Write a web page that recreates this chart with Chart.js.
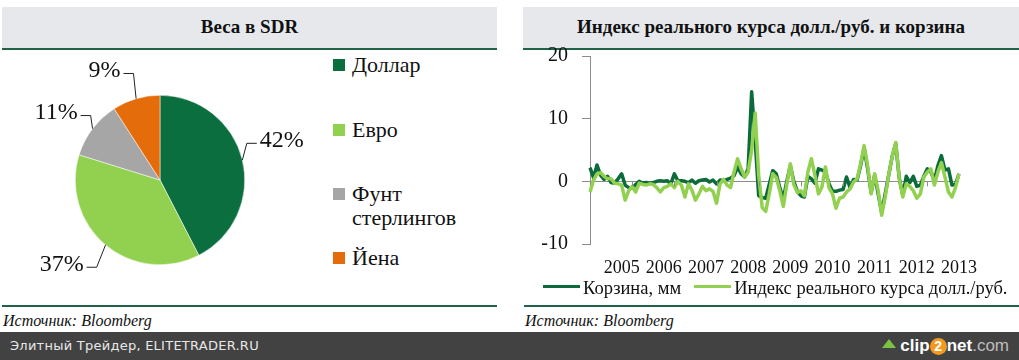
<!DOCTYPE html>
<html>
<head>
<meta charset="utf-8">
<script src="https://cdn.jsdelivr.net/npm/chart.js@4"></script>
<style>
  body { margin: 0; width: 1019px; height: 360px; overflow: hidden; background: #fff; position: relative; font-family: "Liberation Serif", serif; }
  .tbar { position: absolute; top: 7px; height: 41px; background: #e6e8eb; border-bottom: 2px solid #1f6449; text-align: center; font-weight: bold; font-size: 19px; line-height: 40px; color: #111; }
  .rule { position: absolute; top: 305px; height: 2px; background: #1f6449; }
  .src { position: absolute; top: 312px; font-style: italic; font-size: 16px; color: #111; }
  .foot { position: absolute; left: 0; top: 332px; width: 1019px; height: 28px; background: #424242; }
  .foot .t { position: absolute; left: 10px; top: 6px; font: 13px "DejaVu Sans", sans-serif; letter-spacing: 0.25px; color: #e8e8e8; }
  .logo { position: absolute; right: 10px; top: 4px; font: bold 17px "Liberation Sans", sans-serif; color: #fff; white-space: nowrap; }
  .logo .two { display: inline-block; width: 17px; height: 17px; border-radius: 9px; background: #f39a1e; color: #fff; text-align: center; line-height: 17px; font-size: 14px; }
  .logo .com { color: #bdbdbd; font-weight: normal; }
  .logo .arr { display: inline-block; width: 0; height: 0; border-left: 7px solid transparent; border-right: 7px solid transparent; border-bottom: 9px solid #7cc242; margin-right: 4px; vertical-align: 3px; }
  canvas { position: absolute; }
  .leg { position: absolute; left: 333px; font-size: 22px; line-height: 24px; color: #111; }
  .leg i { position: absolute; left: 0; top: 6px; width: 12px; height: 12px; }
  .leg span { position: absolute; left: 19px; top: 0; white-space: nowrap; }
  .lleg { position: absolute; left: 543px; top: 277px; width: 476px; height: 24px; overflow: hidden; white-space: nowrap; font-size: 18.5px; line-height: 22px; color: #111; }
  .lleg b { display: inline-block; width: 37px; height: 3px; vertical-align: 6px; margin-right: 3px; }
</style>
</head>
<body>
<div class="tbar" style="left:2px;width:495px;">Веса в SDR</div>
<div class="tbar" style="left:523px;width:496px;">Индекс реального курса долл./руб. и корзина</div>
<div class="rule" style="left:2px;width:495px;"></div>
<div class="rule" style="left:524px;width:495px;"></div>
<div class="src" style="left:3px;">Источник: Bloomberg</div>
<div class="src" style="left:525px;">Источник: Bloomberg</div>
<div class="foot"><div class="t">Элитный Трейдер, ELITETRADER.RU</div>
  <div class="logo"><span class="arr"></span>clip<span class="two">2</span>net<span class="com">.com</span></div></div>

<canvas id="pie" width="330" height="250" style="left:0;top:50px;"></canvas>
<div id="pieLegend"></div>
<canvas id="line" width="499" height="250" style="left:520px;top:30px;"></canvas>
<div class="lleg" id="lineLegend"></div>

<script>
// --- data ---
const currencies = ['Доллар', 'Евро', 'Фунт стерлингов', 'Йена'];
const weights = [42, 37, 11, 9];
const pieColors = ['#0a6e3f', '#92d050', '#a6a6a6', '#e46c0a'];

// monthly, Mar 2005 .. Dec 2013
const startYear = 2005, startMonth = 3, monthCount = 106;
const months = [];
for (let i = 0; i < monthCount; i++) {
  const m = startMonth - 1 + i;
  months.push((startYear + Math.floor(m / 12)) + '-' + String(m % 12 + 1).padStart(2, '0'));
}

const basket = [
  2.2, 0.6, 2.6, 1.0, 0.3, 0.8, -0.2, -0.3, 0.4, 1.2,
  -0.6, -1.0, -1.1, -0.5, 0.0, -0.3, -0.2, -0.3, -0.2, 0.0,
  0.1, 0.0, 0.1, -0.4, 1.2, 0.1, 0.1, 0.0, -0.2, 0.2,
  -0.3, 0.1, 0.2, 0.3, -0.1, 0.2, -0.4, 0.2, 0.1, 0.3,
  0.5, 0.9, 2.3, 1.2, 0.7, 2.0, 14.3, 6.5, -2.3, -2.6,
  -2.7, -0.5, 1.7, 1.2, -1.0, -2.8, 0.0, 2.5, 0.0, -1.6,
  -2.3, -2.5, 0.8, 0.4, -0.3, 2.0, 1.8, 1.5, -0.4, -1.6,
  -1.6, -1.4, -1.3, 0.7, -1.0, 0.3, 0.2, 2.5, 5.3, 2.0,
  -1.8, 1.0, -2.0, -5.0, -2.0, 1.0, 4.0, 6.0, 0.5, -2.2,
  0.8, -0.2, 0.8, -0.8, -0.6, 0.8, 2.0, 1.5, 0.2, 2.5,
  4.1, 1.8, 2.0, -0.6, -0.5, 1.2
];
const realRate = [
  -1.7, 0.2, 1.2, 1.4, 0.8, 0.4, 0.4, -0.3, -0.4, -0.6,
  -3.0, -1.5, -0.8, -1.7, -0.3, -0.5, -0.6, -0.4, -0.5, -1.0,
  -1.7, -1.0, -0.8, -0.4, -1.0, 0.0, -0.6, -2.5, -0.4, -1.4,
  -3.0, -2.0, -0.8, -1.5, -1.2, -1.6, -3.5, -0.4, 0.3, -0.6,
  -1.0, 1.5, 3.6, 2.0, 0.7, 1.5, 5.0, 10.9, 1.0, -4.2,
  -4.8, -2.0, 1.2, 0.6, -1.5, -4.0, -0.5, 2.8, -0.5, -1.8,
  -1.5, -2.3, 1.5, 3.6, 1.0, -2.0, -0.9, 2.3, -1.0, -2.0,
  -4.3, -2.7, -2.5, -1.7, -1.2, -0.1, 0.4, 2.8, 5.7, 2.5,
  -2.0, 1.2, -1.5, -5.4, -2.5, 1.0, 4.0, 6.2, 0.5, -2.5,
  -0.4, -0.8, -1.5, -2.7, -2.0, 0.7, 1.5, 2.0, -0.6, 1.5,
  3.0, 0.7, -1.7, -2.5, -1.0, 1.2
];
const seriesNames = ['Корзина, мм', 'Индекс реального курса долл./руб.'];
const lineColors = ['#0b6b3a', '#92d050'];
const yTicks = [-10, 0, 10, 20];

Chart.defaults.font.family = '"Liberation Serif", serif';
Chart.defaults.color = '#111';
Chart.defaults.animation = false;

// --- pie ---
// elbow nudges for the leader lines (style only)
const labelNudge = [[-15, -12], [4, 7], [14, -1], [3, -6]];
const pieLabels = {
  id: 'pieLabels',
  afterDatasetsDraw(chart) {
    const ctx = chart.ctx;
    ctx.save();
    ctx.font = '24px "Liberation Serif"';
    ctx.fillStyle = '#111';
    ctx.strokeStyle = '#222';
    ctx.lineWidth = 1;
    ctx.textBaseline = 'middle';
    chart.getDatasetMeta(0).data.forEach((arc, i) => {
      const p = arc.getProps(['x', 'y', 'startAngle', 'endAngle', 'outerRadius'], true);
      const mid = (p.startAngle + p.endAngle) / 2;
      const c = Math.cos(mid), s = Math.sin(mid);
      const x0 = p.x + c * p.outerRadius, y0 = p.y + s * p.outerRadius;
      const x1 = p.x + c * (p.outerRadius + 20) + labelNudge[i][0];
      const y1 = p.y + s * (p.outerRadius + 20) + labelNudge[i][1];
      const right = c >= 0;
      const x2 = x1 + (right ? 10 : -10);
      ctx.beginPath();
      ctx.moveTo(x0, y0); ctx.lineTo(x1, y1); ctx.lineTo(x2, y1);
      ctx.stroke();
      ctx.textAlign = right ? 'left' : 'right';
      ctx.fillText(weights[i] + '%', x2 + (right ? 3 : -3), y1 - 3);
    });
    ctx.restore();
  }
};

new Chart(document.getElementById('pie'), {
  type: 'pie',
  data: {
    labels: currencies,
    datasets: [{ data: weights, backgroundColor: pieColors, borderColor: '#fff', borderWidth: 0.5 }]
  },
  options: {
    responsive: false,
    devicePixelRatio: 1,
    layout: { padding: { left: 75, top: 45, right: 85, bottom: 35 } },
    plugins: { legend: { display: false }, tooltip: { enabled: false } }
  },
  plugins: [pieLabels]
});

// html legend for the pie (multi-line label)
const legTops = [53, 118, 182, 246];
document.getElementById('pieLegend').innerHTML = currencies.map((c, i) =>
  `<div class="leg" style="top:${legTops[i]}px"><i style="background:${pieColors[i]}"></i><span>${c.replace(' ', '<br>')}</span></div>`
).join('');

// --- line ---
const yearTicks = {
  id: 'yearTicks',
  afterDatasetsDraw(chart) {
    const { ctx, scales: { x, y } } = chart;
    const y0 = y.getPixelForValue(0);
    ctx.save();
    ctx.strokeStyle = '#8c8c8c';
    ctx.lineWidth = 1;
    months.forEach((m, i) => {
      if (i % 12 !== 0 || i === 0) return;
      const px = Math.round(x.getPixelForValue(i)) + 0.5;
      ctx.beginPath(); ctx.moveTo(px, y0); ctx.lineTo(px, y0 + 5); ctx.stroke();
    });
    ctx.restore();
  }
};

new Chart(document.getElementById('line'), {
  type: 'line',
  data: {
    labels: months,
    datasets: [
      { label: seriesNames[0], data: basket, borderColor: lineColors[0], backgroundColor: lineColors[0], borderWidth: 3.5, pointRadius: 0, order: 2, borderJoinStyle: 'round' },
      { label: seriesNames[1], data: realRate, borderColor: lineColors[1], backgroundColor: lineColors[1], borderWidth: 3.5, pointRadius: 0, order: 1, borderJoinStyle: 'round' }
    ]
  },
  options: {
    responsive: false,
    devicePixelRatio: 1,
    layout: { padding: { left: 0, top: 24, right: 60, bottom: 0 } },
    plugins: { legend: { display: false }, tooltip: { enabled: false } },
    scales: {
      x: {
        offset: false,
        grid: { display: false, drawTicks: false },
        border: { display: false },
        ticks: {
          autoSkip: false, maxRotation: 0, padding: 13,
          font: { size: 18 }, color: '#111',
          callback: (v, i) => months[i].endsWith('-12') ? months[i].slice(0, 4) : null
        },
        afterFit: s => { s.height = 36; }
      },
      y: {
        min: yTicks[0], max: yTicks[yTicks.length - 1],
        afterBuildTicks: s => { s.ticks = yTicks.map(v => ({ value: v })); },
        ticks: { font: { size: 20 }, color: '#111', padding: 14 },
        grid: {
          color: c => c.tick && c.tick.value === 0 ? '#8c8c8c' : 'transparent',
          tickColor: '#8c8c8c', tickLength: 8, lineWidth: 1
        },
        border: { color: '#8c8c8c', width: 1 },
        afterFit: s => { s.width = 70; }
      }
    }
  },
  plugins: [yearTicks]
});

document.getElementById('lineLegend').innerHTML = seriesNames.map((n, i) =>
  `<b style="background:${lineColors[i]}"></b>${n}`
).join('<span style="display:inline-block;width:13px"></span>');
</script>
</body>
</html>
